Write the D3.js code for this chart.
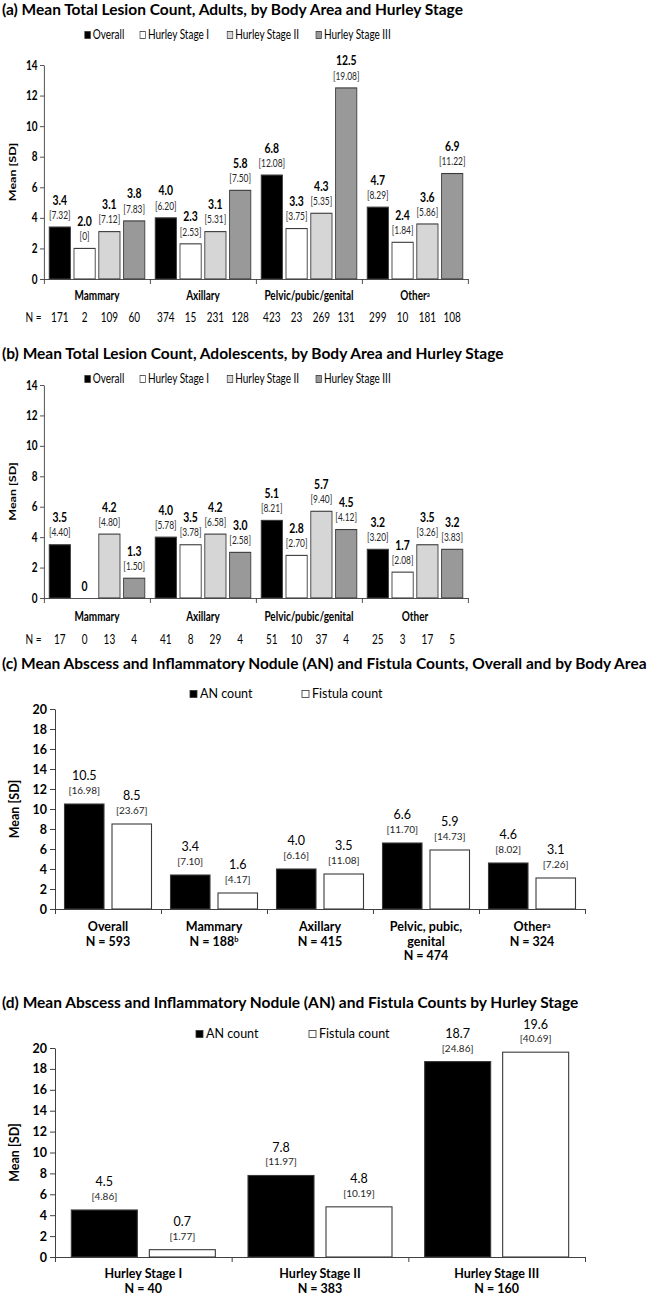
<!DOCTYPE html>
<html><head><meta charset="utf-8">
<script src="https://cdn.jsdelivr.net/npm/d3@7"></script>
<style>
body{margin:0;background:#fff}
svg{display:block;font-family:Lato,'Open Sans',sans-serif}
</style>
</head><body>
<svg id="c" width="647" height="1300"></svg>
<script>
// ---------- DATA ----------
const stageSeries = ["Overall", "Hurley Stage I", "Hurley Stage II", "Hurley Stage III"];
const bodyAreas = ["Mammary", "Axillary", "Pelvic/pubic/genital", "Other"];
const adultAreaNotes = ["", "", "", "a"];

// (a) adults: one array per series, in body-area order
const adultOverall = [3.4, 4.0, 6.8, 4.7];
const adultStageI = [2.0, 2.3, 3.3, 2.4];
const adultStageII = [3.1, 3.1, 4.3, 3.6];
const adultStageIII = [3.8, 5.8, 12.5, 6.9];
const adultOverallSD = [7.32, 6.20, 12.08, 8.29];
const adultStageISD = [0, 2.53, 3.75, 1.84];
const adultStageIISD = [7.12, 5.31, 5.35, 5.86];
const adultStageIIISD = [7.83, 7.50, 19.08, 11.22];
const adultOverallN = [171, 374, 423, 299];
const adultStageIN = [2, 15, 23, 10];
const adultStageIIN = [109, 231, 269, 181];
const adultStageIIIN = [60, 128, 131, 108];

// (b) adolescents
const adolOverall = [3.5, 4.0, 5.1, 3.2];
const adolStageI = [0, 3.5, 2.8, 1.7];
const adolStageII = [4.2, 4.2, 5.7, 3.5];
const adolStageIII = [1.3, 3.0, 4.5, 3.2];
const adolOverallSD = [4.40, 5.78, 8.21, 3.20];
const adolStageISD = [null, 3.78, 2.70, 2.08];
const adolStageIISD = [4.80, 6.58, 9.40, 3.26];
const adolStageIIISD = [1.50, 2.58, 4.12, 3.83];
const adolOverallN = [17, 41, 51, 25];
const adolStageIN = [0, 8, 10, 3];
const adolStageIIN = [13, 29, 37, 17];
const adolStageIIIN = [4, 4, 4, 5];

// (c) AN / fistula by body area
const countSeries = ["AN count", "Fistula count"];
const areaCategories = ["Overall", "Mammary", "Axillary", "Pelvic, pubic, genital", "Other"];
const areaN = [593, 188, 415, 474, 324];
const areaNameNotes = ["", "", "", "", "a"];
const areaNNotes = ["", "b", "", "", ""];
const areaAN = [10.5, 3.4, 4.0, 6.6, 4.6];
const areaANSD = [16.98, 7.10, 6.16, 11.70, 8.02];
const areaFistula = [8.5, 1.6, 3.5, 5.9, 3.1];
const areaFistulaSD = [23.67, 4.17, 11.08, 14.73, 7.26];

// (d) AN / fistula by Hurley stage
const stageCategories = ["Hurley Stage I", "Hurley Stage II", "Hurley Stage III"];
const stageN = [40, 383, 160];
const stageAN = [4.5, 7.8, 18.7];
const stageANSD = [4.86, 11.97, 24.86];
const stageFistula = [0.7, 4.8, 19.6];
const stageFistulaSD = [1.77, 10.19, 40.69];

const yTicks14 = [0, 2, 4, 6, 8, 10, 12, 14];
const yTicks20 = [0, 2, 4, 6, 8, 10, 12, 14, 16, 18, 20];
const titles = [
  "(a) Mean Total Lesion Count, Adults, by Body Area and Hurley Stage",
  "(b) Mean Total Lesion Count, Adolescents, by Body Area and Hurley Stage",
  "(c) Mean Abscess and Inflammatory Nodule (AN) and Fistula Counts, Overall and by Body Area",
  "(d) Mean Abscess and Inflammatory Nodule (AN) and Fistula Counts by Hurley Stage"
];

// ---------- STYLE ----------
const stageColors = ["#000000", "#ffffff", "#d6d6d6", "#999999"];
const countColors = ["#000000", "#ffffff"];
const X0 = 55, X1 = 585;
const svg = d3.select("#c");
const fmt1 = v => v === 0 ? "0" : d3.format(".1f")(v);
const fmt2 = v => v === 0 ? "0" : d3.format(".2f")(v);

function title(t, yc) {
  svg.append("text").attr("x", 2).attr("y", yc).attr("dy", "0.35em")
    .attr("font-weight", 700).attr("font-size", 15.5).text(t);
}
function legend(root, items, colors, xs, yc) {
  items.forEach((t, i) => {
    root.append("rect").attr("x", xs[i]).attr("y", yc - 3.5).attr("width", 7).attr("height", 7)
      .attr("fill", colors[i]).attr("stroke", "#333").attr("stroke-width", 0.8);
    root.append("text").attr("x", xs[i] + 10).attr("y", yc).attr("dy", "0.35em")
      .attr("font-size", 12.5).text(t);
  });
}
function labelWithNote(sel, text, note) {
  sel.append("tspan").text(text);
  if (note) sel.append("tspan").attr("font-size", 7.5).attr("dy", "-0.5em").text(note);
}

function chart(root, cfg) {
  const y = d3.scaleLinear().domain([0, cfg.yMax]).range([cfg.yBottom, cfg.yTop]);
  const gx = d3.scaleBand().domain(cfg.groups).range([X0, X1]);
  const span = cfg.series.length * cfg.step - (cfg.step - cfg.bw);
  const pad = (gx.bandwidth() - span) / 2;
  const bx = d3.scaleBand().domain(cfg.series).range([pad, pad + span])
    .paddingInner((cfg.step - cfg.bw) / cfg.step);

  // y axis
  const ya = root.append("g").attr("transform", `translate(${X0},0)`)
    .call(d3.axisLeft(y).tickValues(cfg.ticks).tickFormat(d3.format("d")).tickSize(5).tickSizeOuter(0).tickPadding(3));
  ya.selectAll("path,line").attr("stroke", "#404040");
  ya.selectAll("text").attr("font-size", 12.5).attr("font-weight", 700).attr("fill", "#000")
    .attr("font-family", "Lato,'Open Sans',sans-serif");
  root.append("text").attr("transform", `translate(15,${(cfg.yTop + cfg.yBottom) / 2}) rotate(-90)`)
    .attr("text-anchor", "middle").attr("dy", "0.35em").attr("font-size", 12.5).attr("font-weight", 700)
    .text("Mean [SD]");

  // bars + labels
  cfg.series.forEach((s, si) => {
    cfg.groups.forEach((g, gi) => {
      const v = cfg.means[si][gi], sd = cfg.sds[si][gi];
      const x = gx(g) + bx(s);
      if (v > 0) {
        root.append("rect").attr("x", x).attr("y", y(v)).attr("width", bx.bandwidth())
          .attr("height", y(0) - y(v)).attr("fill", cfg.colors[si])
          .attr("stroke", "#3a3a3a").attr("stroke-width", 1.1);
      }
      const cx = x + bx.bandwidth() / 2;
      const hasSD = sd !== null && sd !== undefined;
      root.append("text").attr("x", cx).attr("y", y(v) - (hasSD ? cfg.vOff : cfg.sdOff))
        .attr("dy", "0.35em").attr("text-anchor", "middle")
        .attr("font-size", cfg.vSize).attr("font-weight", cfg.vWeight).text(fmt1(v));
      if (hasSD) {
        root.append("text").attr("x", cx).attr("y", y(v) - cfg.sdOff)
          .attr("dy", "0.35em").attr("text-anchor", "middle").attr("fill", "#262626")
          .attr("font-size", cfg.sdSize).text("[" + fmt2(sd) + "]");
      }
      if (cfg.nRows) {
        root.append("text").attr("x", cx).attr("y", cfg.nY).attr("dy", "0.35em")
          .attr("text-anchor", "middle").attr("font-size", 12.5).text(cfg.nRows[si][gi]);
      }
    });
  });

  // x axis with group separators
  const sep = d3.scaleLinear().domain([0, cfg.groups.length]).range([X0, X1]);
  const xa = root.append("g").attr("transform", `translate(0,${cfg.yBottom})`)
    .call(d3.axisBottom(sep).tickValues(d3.range(0, cfg.groups.length + 1)).tickFormat("").tickSize(5).tickSizeOuter(0));
  xa.selectAll("path,line").attr("stroke", "#404040");

  if (cfg.nRows) {
    root.append("text").attr("x", 32).attr("y", cfg.nY).attr("dy", "0.35em").attr("font-size", 12.5).text("N =");
  }
  return gx;
}

// panels (a) and (b) are horizontally condensed in the source figure
const squeeze = "scale(0.8,1)";

// ---------- PANEL A ----------
title(titles[0], 10);
const rootA = svg.append("g").attr("transform", squeeze);
legend(rootA, stageSeries, stageColors, [106, 175, 284, 395], 35);
let gx = chart(rootA, {
  groups: bodyAreas, series: stageSeries, colors: stageColors,
  means: [adultOverall, adultStageI, adultStageII, adultStageIII],
  sds: [adultOverallSD, adultStageISD, adultStageIISD, adultStageIIISD],
  nRows: [adultOverallN, adultStageIN, adultStageIIN, adultStageIIIN],
  yMax: 14, ticks: yTicks14, yTop: 65, yBottom: 279, nY: 318,
  step: 31, bw: 26.5, vOff: 27, sdOff: 12, vSize: 13, vWeight: 700, sdSize: 10.5
});
bodyAreas.forEach((g, i) => {
  const t = rootA.append("text").attr("x", gx(g) + gx.bandwidth() / 2).attr("y", 296).attr("dy", "0.35em")
    .attr("text-anchor", "middle").attr("font-size", 12.5).attr("font-weight", 700);
  labelWithNote(t, g, adultAreaNotes[i]);
});

// ---------- PANEL B ----------
title(titles[1], 354);
const rootB = svg.append("g").attr("transform", squeeze);
legend(rootB, stageSeries, stageColors, [106, 175, 284, 395], 379);
gx = chart(rootB, {
  groups: bodyAreas, series: stageSeries, colors: stageColors,
  means: [adolOverall, adolStageI, adolStageII, adolStageIII],
  sds: [adolOverallSD, adolStageISD, adolStageIISD, adolStageIIISD],
  nRows: [adolOverallN, adolStageIN, adolStageIIN, adolStageIIIN],
  yMax: 14, ticks: yTicks14, yTop: 385, yBottom: 598, nY: 640,
  step: 31, bw: 26.5, vOff: 27, sdOff: 12, vSize: 13, vWeight: 700, sdSize: 10.5
});
bodyAreas.forEach((g) => {
  rootB.append("text").attr("x", gx(g) + gx.bandwidth() / 2).attr("y", 617).attr("dy", "0.35em")
    .attr("text-anchor", "middle").attr("font-size", 12.5).attr("font-weight", 700).text(g);
});

// ---------- PANEL C ----------
title(titles[2], 664);
legend(svg, countSeries, countColors, [190, 302], 694);
gx = chart(svg, {
  groups: areaCategories, series: countSeries, colors: countColors,
  means: [areaAN, areaFistula], sds: [areaANSD, areaFistulaSD],
  yMax: 20, ticks: yTicks20, yTop: 709, yBottom: 909,
  step: 47.5, bw: 39.5, vOff: 28, sdOff: 13.5, vSize: 12.5, vWeight: 400, sdSize: 10
});
areaCategories.forEach((g, i) => {
  const cx = gx(g) + gx.bandwidth() / 2;
  let lines = [g];
  if (g.length > 14) { const k = g.lastIndexOf(" "); lines = [g.slice(0, k), g.slice(k + 1)]; }
  lines.forEach((ln, li) => {
    const t = svg.append("text").attr("x", cx).attr("y", 927 + li * 14.5).attr("dy", "0.35em")
      .attr("text-anchor", "middle").attr("font-size", 12.5).attr("font-weight", 700);
    labelWithNote(t, ln, li === lines.length - 1 ? areaNameNotes[i] : "");
  });
  const t = svg.append("text").attr("x", cx).attr("y", 927 + lines.length * 14.5).attr("dy", "0.35em")
    .attr("text-anchor", "middle").attr("font-size", 12.5).attr("font-weight", 700);
  labelWithNote(t, "N = " + areaN[i], areaNNotes[i]);
});

// ---------- PANEL D ----------
title(titles[3], 1003);
legend(svg, countSeries, countColors, [196, 309], 1034);
gx = chart(svg, {
  groups: stageCategories, series: countSeries, colors: countColors,
  means: [stageAN, stageFistula], sds: [stageANSD, stageFistulaSD],
  yMax: 20, ticks: yTicks20, yTop: 1048, yBottom: 1257,
  step: 78, bw: 66, vOff: 28, sdOff: 13.5, vSize: 12.5, vWeight: 400, sdSize: 10
});
stageCategories.forEach((g, i) => {
  const cx = gx(g) + gx.bandwidth() / 2;
  svg.append("text").attr("x", cx).attr("y", 1274).attr("dy", "0.35em").attr("text-anchor", "middle")
    .attr("font-size", 12.5).attr("font-weight", 700).text(g);
  svg.append("text").attr("x", cx).attr("y", 1289).attr("dy", "0.35em").attr("text-anchor", "middle")
    .attr("font-size", 12.5).attr("font-weight", 700).text("N = " + stageN[i]);
});
</script>
</body></html>
